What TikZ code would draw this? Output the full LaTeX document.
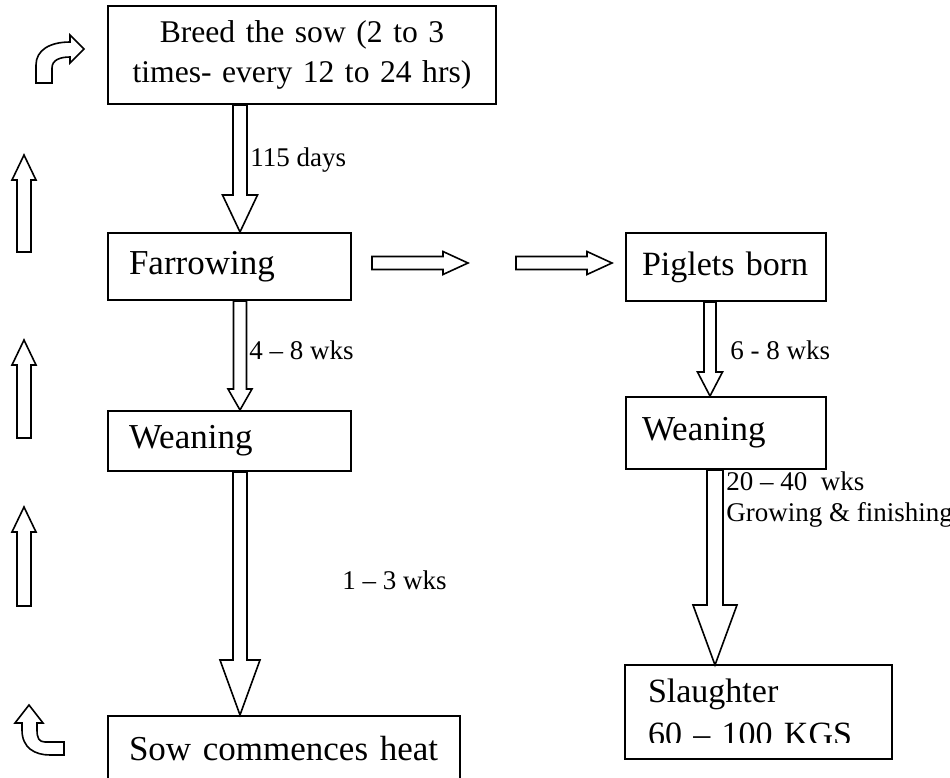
\documentclass[tikz,border=0pt]{standalone}
\usepackage{fontspec}
\setmainfont{Liberation Serif}
\usetikzlibrary{positioning,calc}

\tikzset{
  box/.style={draw, line width=1pt, anchor=north west, inner xsep=10.5pt, inner ysep=0pt,
    align=left, font=\fontsize{17.5}{20}\selectfont},
  blockline/.style={draw, fill=white, line width=0.8pt, line join=miter},
  lbl/.style={anchor=west, inner sep=0pt, align=left, font=\fontsize{13.5}{15.5}\selectfont}
}
% start, end, head length, head half width, shaft half width
\newcommand\blockarrow[5]{%
  \coordinate (hb) at ($(#2)!#3!(#1)$);
  \draw[blockline] ($(#1)!#5!90:(#2)$) -- ($(hb)!#5!90:(#2)$) -- ($(hb)!#4!90:(#2)$)
    -- (#2) -- ($(hb)!#4!-90:(#2)$) -- ($(hb)!#5!-90:(#2)$) -- ($(#1)!#5!-90:(#2)$) -- cycle;}

\begin{document}
\begin{tikzpicture}[x=0.5pt, y=-0.5pt]
  \useasboundingbox (0,0) rectangle (950,778);

  \node[box, inner xsep=9pt, align=center, text width=176pt, minimum height=49pt,
        font=\fontsize{15.8}{20}\selectfont] (breed) at (107,5)
        {Breed the sow (2 to 3\\times- every 12 to 24 hrs)};
  \node[box, text width=100.5pt, minimum height=33.5pt] (farrow) at (107,232) {Farrowing};
  \node[box, text width=100.5pt, minimum height=30pt] (weanL) at (107,410) {Weaning};
  \node[box, text width=155pt, minimum height=33pt] (heat) at (107,715)
        {Sow commences heat};
  \node[box, inner xsep=8pt, text width=84pt, minimum height=34pt,
        font=\fontsize{17}{20}\selectfont] (piglets) at (625,232) {Piglets born};
  \node[box, inner xsep=8pt, text width=84pt, minimum height=36pt] (weanR) at (625,396)
        {Weaning};
  \begin{scope}
    \clip (600,600) rectangle (900,742);
    \node[box, draw=none, inner xsep=11pt, text width=110.5pt, minimum height=46pt,
          font=\fontsize{17}{21.5}\selectfont] (slaughter) at (625,665)
          {Slaughter\\60 -- 100 KGS};
  \end{scope}
  \draw[line width=1pt] (slaughter.north west) rectangle (slaughter.south east);

  \coordinate (a1) at ($(breed.south west)+(133,0)$);
  \coordinate (a2) at ($(farrow.south west)+(133,0)$);
  \coordinate (a3) at ($(weanL.south west)+(133,0)$);
  \coordinate (a4) at ($(piglets.south west)+(85,0)$);
  \coordinate (a5) at ($(weanR.south west)+(90,0)$);
  \coordinate (b1) at (farrow.north -| a1);
  \coordinate (b2) at (weanL.north -| a2);
  \coordinate (b3) at (heat.north -| a3);
  \coordinate (b4) at (weanR.north -| a4);
  \coordinate (b5) at (slaughter.north -| a5);

  \blockarrow{a1}{b1}{18.5pt}{8.75pt}{3.5pt}
  \blockarrow{a2}{b2}{10.5pt}{6pt}{3.25pt}
  \blockarrow{a3}{b3}{27.5pt}{10pt}{3.5pt}
  \blockarrow{a4}{b4}{12pt}{6.25pt}{3pt}
  \blockarrow{a5}{b5}{30pt}{11pt}{4pt}

  \coordinate (h1s) at (372,263);
  \coordinate (h1e) at (468,263);
  \coordinate (h2s) at (516,263);
  \coordinate (h2e) at (612,263);
  \blockarrow{h1s}{h1e}{12.5pt}{5.75pt}{3.25pt}
  \blockarrow{h2s}{h2e}{12.5pt}{5.75pt}{3.25pt}

  \coordinate (u1s) at (24,252);
  \coordinate (u1e) at (24,155);
  \coordinate (u2s) at (24,438);
  \coordinate (u2e) at (24,340);
  \coordinate (u3s) at (24,606);
  \coordinate (u3e) at (24,507);
  \blockarrow{u1s}{u1e}{12.5pt}{6pt}{3.5pt}
  \blockarrow{u2s}{u2e}{12.5pt}{6pt}{3.5pt}
  \blockarrow{u3s}{u3e}{12.5pt}{6pt}{3.5pt}

  \draw[blockline] (36,83) -- (36,65) .. controls (36,50) and (50,42) .. (70,42) -- (70,35)
    -- (84,49) -- (70,63) -- (70,57) .. controls (60,57) and (52,60) .. (52,68) -- (52,83) -- cycle;
  \draw[blockline] (64,742) -- (45,742) .. controls (39,742) and (37,738) .. (37,730) -- (37,723)
    -- (43,723) -- (29,705) -- (15,723) -- (22,723) -- (22,730) .. controls (22,748) and (35,755)
    .. (50,755) -- (64,755) -- cycle;

  \node[lbl] (l1) at (250,160) {115 days};
  \node[lbl] (l2) at (249,350) {4 -- 8 wks};
  \node[lbl] (l3) at (342,580) {1 -- 3 wks};
  \node[lbl] (l4) at (730,350) {6 - 8 wks};
  \node[lbl] (l5) at (726,500) {20 -- 40~ wks\\Growing \& finishing};
\end{tikzpicture}
\end{document}
